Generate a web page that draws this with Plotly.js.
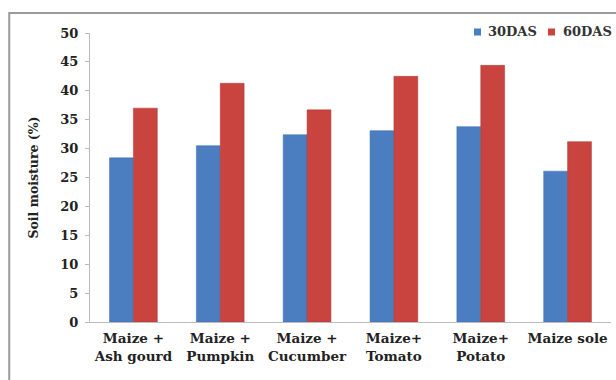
<!DOCTYPE html>
<html>
<head>
<meta charset="utf-8">
<script src="https://cdn.plot.ly/plotly-3.0.1.min.js"></script>
<style>
html,body{margin:0;padding:0;background:#fff;}
#chart{width:616px;height:380px;}
</style>
</head>
<body>
<div id="chart"></div>
<script>
const categories = ["Maize +<br>Ash gourd", "Maize +<br>Pumpkin", "Maize +<br>Cucumber", "Maize+<br>Tomato", "Maize+<br>Potato", "Maize sole"];
const das30 = [28.4, 30.5, 32.4, 33.1, 33.8, 26.1];
const das60 = [37.0, 41.3, 36.7, 42.5, 44.4, 31.2];
const seriesNames = ["30DAS", "60DAS"];
const seriesColors = ["#4a7ec1", "#c9433f"];
const yTicks = [0, 5, 10, 15, 20, 25, 30, 35, 40, 45, 50];

const serif = "DejaVu Serif";

const traces = [
  {type: "bar", name: seriesNames[0], x: categories, y: das30,
   marker: {color: seriesColors[0], line: {color: "#3e6ca8", width: 0.5}}},
  {type: "bar", name: seriesNames[1], x: categories, y: das60,
   marker: {color: seriesColors[1], line: {color: "#a83a37", width: 0.5}}}
];

// manual legend (positions in paper units)
const legX = [0.7370, 0.8790];
const legTextX = [0.7600, 0.9040];
const shapes = [
  {type: "rect", xref: "paper", yref: "paper", x0: -0.155, x1: 1.2, y0: -0.4, y1: 1.069,
   line: {color: "#9a9a9a", width: 2}, fillcolor: "rgba(0,0,0,0)", layer: "below"}
];
const annotations = [];
seriesNames.forEach((n, i) => {
  shapes.push({type: "rect", xref: "paper", yref: "paper", x0: legX[i], x1: legX[i] + 0.0135,
               y0: 0.9913, y1: 1.0156, fillcolor: seriesColors[i], line: {width: 0}});
  annotations.push({xref: "paper", yref: "paper", x: legTextX[i], y: 1.0035,
                    xanchor: "left", yanchor: "middle", showarrow: false, text: n,
                    font: {family: serif, size: 13, color: "#333", weight: "bold"}});
});

const layout = {
  width: 616, height: 380,
  margin: {l: 90, r: 5, t: 33, b: 58},
  paper_bgcolor: "#fff", plot_bgcolor: "#fff",
  barmode: "group", bargap: 0.45, bargroupgap: 0,
  showlegend: false,
  xaxis: {type: "category", showgrid: false, zeroline: false,
          showline: true, linecolor: "#bbbbbb", linewidth: 1,
          ticks: "", tickangle: 0, ticklabelstandoff: 4, automargin: false,
          tickfont: {family: serif, size: 13.5, color: "#222", weight: "bold"}},
  yaxis: {range: [0, 50], tickvals: yTicks, showgrid: false, zeroline: false,
          showline: true, linecolor: "#bbbbbb", linewidth: 1,
          ticks: "outside", ticklen: 4, tickcolor: "#bbbbbb", ticklabelstandoff: 4,
          automargin: false,
          tickfont: {family: serif, size: 13, color: "#222", weight: "bold"},
          title: {text: "Soil moisture (%)", standoff: 18,
                  font: {family: serif, size: 12.5, color: "#222", weight: "bold"}}},
  shapes: shapes,
  annotations: annotations
};

Plotly.newPlot("chart", traces, layout, {displayModeBar: false, staticPlot: true});
</script>
</body>
</html>
